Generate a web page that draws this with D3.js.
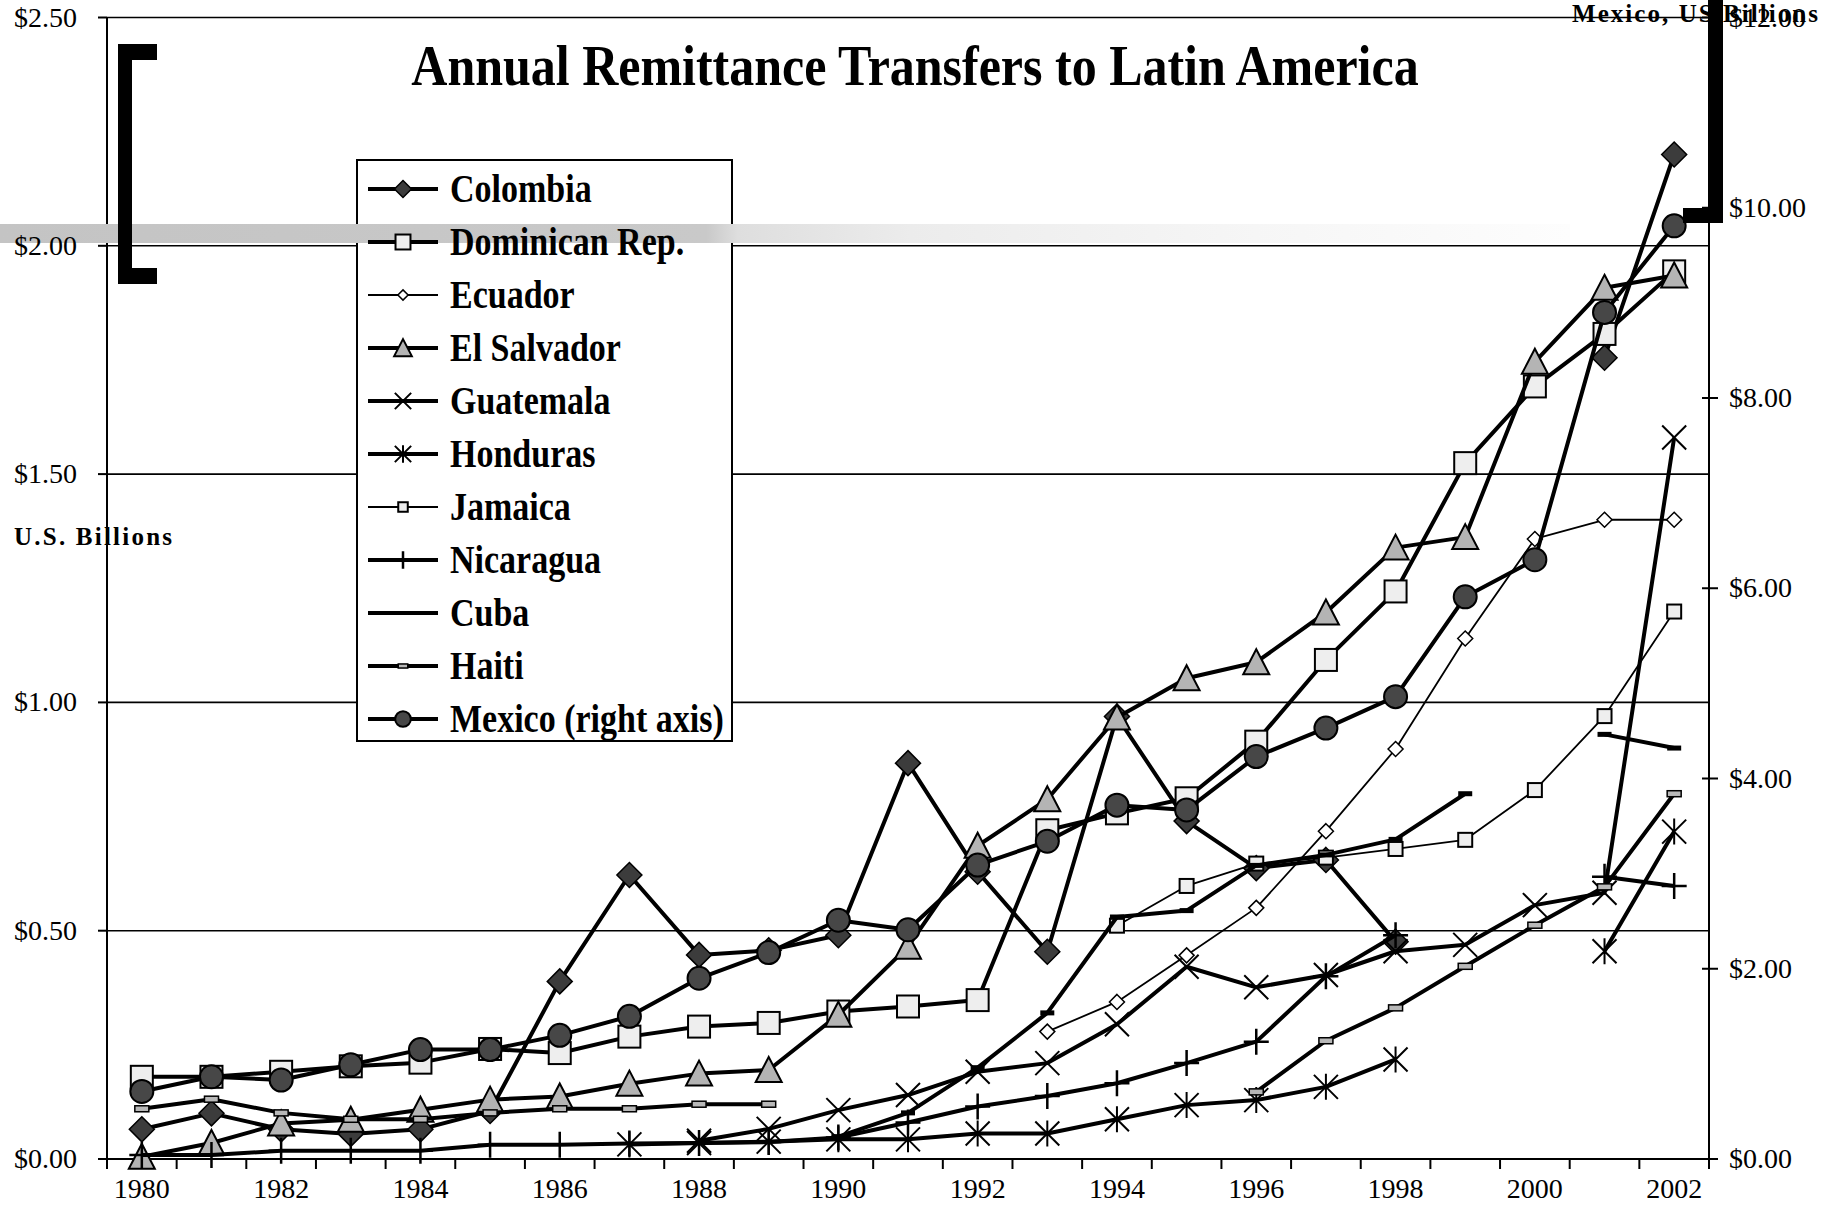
<!DOCTYPE html>
<html><head><meta charset="utf-8">
<script src="https://cdn.jsdelivr.net/npm/d3@7"></script>
<style>body{margin:0;background:#fff}svg{display:block;font-family:"Liberation Serif","Times New Roman",serif}</style>
</head><body>
<svg id="chart" width="1828" height="1217"></svg>
<script>
// ---------- DATA ----------
const years = d3.range(1980, 2003);
const yearLabels = years.filter(y => y % 2 === 0);
const leftTicks = [0, 0.5, 1, 1.5, 2, 2.5];
const rightTicks = [0, 2, 4, 6, 8, 10, 12];
const N = null;
const colombia  = [0.065,0.10,0.065,0.055,0.065,0.105,0.389,0.622,0.447,0.457,0.49,0.867,0.629,0.454,0.969,0.74,0.637,0.655,0.476,N,N,1.755,2.2];
const dominican = [0.18,0.18,0.191,0.203,0.211,0.241,0.232,0.268,0.29,0.298,0.323,0.334,0.348,0.72,0.757,0.79,0.914,1.093,1.243,1.524,1.692,1.807,1.944];
const ecuador   = [N,N,N,N,N,N,N,N,N,N,N,N,N,0.279,0.344,0.446,0.55,0.718,0.898,1.14,1.358,1.40,1.40];
const elSalvador= [0.005,0.035,0.078,0.086,0.108,0.13,0.137,0.165,0.187,0.195,0.316,0.465,0.686,0.788,0.967,1.053,1.088,1.197,1.339,1.362,1.746,1.908,1.935];
const guatemala = [N,N,N,N,N,N,N,N,0.04,0.066,0.107,0.14,0.191,0.21,0.295,0.421,0.376,0.403,0.455,0.469,0.556,0.583,1.58];
const honduras  = [N,N,N,N,N,N,N,0.032,0.035,0.038,0.043,0.043,0.056,0.056,0.087,0.118,0.129,0.158,0.218,N,N,0.455,0.717];
const jamaica   = [N,N,N,N,N,N,N,N,N,N,N,N,N,N,0.511,0.598,0.647,0.66,0.679,0.699,0.808,0.97,1.199];
const nicaragua = [0.009,0.009,0.018,0.018,0.018,0.031,0.031,0.034,0.035,0.037,0.047,0.08,0.115,0.138,0.166,0.21,0.257,0.40,0.49,N,N,0.618,0.598];
const cuba      = [N,N,N,N,N,N,N,N,N,N,0.049,0.101,0.20,0.32,0.53,0.544,0.643,0.666,0.70,0.80,N,0.93,0.90];
const haiti     = [0.11,0.131,0.101,0.087,0.087,0.101,0.11,0.11,0.12,0.12,N,N,N,N,N,N,0.147,0.259,0.331,0.422,0.512,0.596,0.80];
const mexico    = [0.71,0.865,0.83,0.99,1.15,1.15,1.30,1.50,1.90,2.17,2.51,2.41,3.09,3.34,3.72,3.67,4.23,4.53,4.86,5.91,6.30,8.90,9.81];

// ---------- SERIES TABLE ----------
const series = [
  {name:"Colombia", values:colombia, axis:"L", marker:"diamond", lw:4},
  {name:"Dominican Rep.", values:dominican, axis:"L", marker:"bigSquare", lw:4},
  {name:"Ecuador", values:ecuador, axis:"L", marker:"smallDiamond", lw:1.8},
  {name:"El Salvador", values:elSalvador, axis:"L", marker:"triangle", lw:4},
  {name:"Guatemala", values:guatemala, axis:"L", marker:"x", lw:4},
  {name:"Honduras", values:honduras, axis:"L", marker:"asterisk", lw:4},
  {name:"Jamaica", values:jamaica, axis:"L", marker:"smallSquare", lw:1.8},
  {name:"Nicaragua", values:nicaragua, axis:"L", marker:"plus", lw:4},
  {name:"Cuba", values:cuba, axis:"L", marker:"dash", lw:4},
  {name:"Haiti", values:haiti, axis:"L", marker:"rect", lw:4},
  {name:"Mexico (right axis)", values:mexico, axis:"R", marker:"circle", lw:4}
];

// ---------- GEOMETRY ----------
const L = 107, R = 1709, T = 17.5, B = 1159;
const svg = d3.select("#chart");
const x = d3.scaleBand().domain(years).range([L, R]).paddingInner(0).paddingOuter(0);
const xc = yr => x(yr) + x.bandwidth() / 2;
const yL = d3.scaleLinear().domain([0, 2.5]).range([B, T]);
const yR = d3.scaleLinear().domain([0, 12]).range([B, T]);

function drawMarker(g, type, k) {
  switch (type) {
    case "diamond":
      g.append("path").attr("d", `M0,${-12.5*k}L${12.5*k},0L0,${12.5*k}L${-12.5*k},0Z`)
        .attr("fill", "#3c3c3c").attr("stroke", "#000").attr("stroke-width", 1.5); break;
    case "bigSquare":
      g.append("rect").attr("x", -11*k).attr("y", -11*k).attr("width", 22*k).attr("height", 22*k)
        .attr("fill", "#eeeeee").attr("stroke", "#000").attr("stroke-width", 2); break;
    case "smallDiamond":
      g.append("path").attr("d", `M0,${-7.5*k}L${7.5*k},0L0,${7.5*k}L${-7.5*k},0Z`)
        .attr("fill", "#fff").attr("stroke", "#000").attr("stroke-width", 1.5); break;
    case "triangle":
      g.append("path").attr("d", `M0,${-13*k}L${13*k},${12*k}L${-13*k},${12*k}Z`)
        .attr("fill", "#b4b4b4").attr("stroke", "#000").attr("stroke-width", 2); break;
    case "x":
      g.append("path").attr("d", `M${-12*k},${-12*k}L${12*k},${12*k}M${12*k},${-12*k}L${-12*k},${12*k}`)
        .attr("fill", "none").attr("stroke", "#000").attr("stroke-width", 2); break;
    case "asterisk":
      g.append("path").attr("d", `M${-12*k},${-12*k}L${12*k},${12*k}M${12*k},${-12*k}L${-12*k},${12*k}M0,${-13*k}L0,${13*k}`)
        .attr("fill", "none").attr("stroke", "#000").attr("stroke-width", 2); break;
    case "smallSquare":
      g.append("rect").attr("x", -7*k).attr("y", -7*k).attr("width", 14*k).attr("height", 14*k)
        .attr("fill", "#eeeeee").attr("stroke", "#000").attr("stroke-width", 2); break;
    case "plus":
      g.append("path").attr("d", `M${-12.5*k},0L${12.5*k},0M0,${-13*k}L0,${13*k}`)
        .attr("fill", "none").attr("stroke", "#000").attr("stroke-width", 2.5); break;
    case "dash":
      g.append("rect").attr("x", -7*k).attr("y", -2.5*k).attr("width", 14*k).attr("height", 5*k)
        .attr("fill", "#000"); break;
    case "rect":
      g.append("rect").attr("x", -7*k).attr("y", -3*k).attr("width", 14*k).attr("height", 6*k)
        .attr("fill", "#b8b8b8").attr("stroke", "#000").attr("stroke-width", 1.5); break;
    case "circle":
      g.append("circle").attr("r", 11.5*k)
        .attr("fill", "#474747").attr("stroke", "#000").attr("stroke-width", 2); break;
  }
}

// ---------- GRID & AXES ----------
const grid = svg.append("g");
leftTicks.filter(t => t > 0).forEach(t => {
  grid.append("line").attr("x1", L).attr("x2", R).attr("y1", yL(t)).attr("y2", yL(t))
    .attr("stroke", "#000").attr("stroke-width", 1.6);
});
const ax = svg.append("g").attr("stroke", "#000").attr("stroke-width", 2);
ax.append("line").attr("x1", L).attr("x2", L).attr("y1", T).attr("y2", B);
ax.append("line").attr("x1", R).attr("x2", R).attr("y1", T).attr("y2", B);
ax.append("line").attr("x1", L).attr("x2", R).attr("y1", B).attr("y2", B);
leftTicks.forEach(t => ax.append("line").attr("x1", L - 9).attr("x2", L).attr("y1", yL(t)).attr("y2", yL(t)));
rightTicks.forEach(t => ax.append("line").attr("x1", R - 7).attr("x2", R + 9).attr("y1", yR(t)).attr("y2", yR(t)));
years.forEach(yr => ax.append("line").attr("x1", x(yr)).attr("x2", x(yr)).attr("y1", B).attr("y2", B + 10));
ax.append("line").attr("x1", R).attr("x2", R).attr("y1", B).attr("y2", B + 10);

// ---------- SERIES ----------
const plot = svg.append("g");
series.forEach(s => {
  const ys = s.axis === "R" ? yR : yL;
  const pts = years.map((yr, i) => ({yr, v: s.values[i]}));
  const line = d3.line().defined(d => d.v != null).x(d => xc(d.yr)).y(d => ys(d.v));
  plot.append("path").attr("d", line(pts)).attr("fill", "none").attr("stroke", "#000")
    .attr("stroke-width", s.lw).attr("stroke-linejoin", "round");
  pts.filter(d => d.v != null).forEach(d => {
    const g = plot.append("g").attr("transform", `translate(${xc(d.yr)},${ys(d.v)})`);
    drawMarker(g, s.marker, 1);
  });
});

// ---------- LEGEND BOX ----------
const LX = 357, LY = 160, LW = 375, LH = 581;
svg.append("rect").attr("x", LX).attr("y", LY).attr("width", LW).attr("height", LH)
  .attr("fill", "#fff").attr("stroke", "#000").attr("stroke-width", 2);

// ---------- GRAY BAND ARTIFACT ----------
const defs = svg.append("defs");
const grad = defs.append("linearGradient").attr("id", "band").attr("x1", "0").attr("x2", "1").attr("y1", "0").attr("y2", "0");
[[0, "#c4c4c4"], [0.45, "#c9c9c9"], [0.47, "#dedede"], [0.58, "#ececec"], [0.8, "#f6f6f6"], [1, "#fdfdfd"]].forEach(([o, c]) =>
  grad.append("stop").attr("offset", o).attr("stop-color", c));
svg.append("rect").attr("x", 0).attr("y", 224).attr("width", 1570).attr("height", 19).attr("fill", "url(#band)");

// ---------- LEGEND CONTENT ----------
series.forEach((s, i) => {
  const cy = 189 + i * 53;
  svg.append("line").attr("x1", 368).attr("x2", 438).attr("y1", cy).attr("y2", cy)
    .attr("stroke", "#000").attr("stroke-width", s.lw);
  const g = svg.append("g").attr("transform", `translate(403,${cy})`);
  drawMarker(g, s.marker, 0.68);
  svg.append("text").attr("transform", `translate(450,${cy + 13}) scale(1,1.15)`)
    .attr("font-size", 34).attr("font-weight", "bold").attr("fill", "#000").text(s.name);
});

// ---------- BRACKETS ----------
const br = svg.append("g").attr("fill", "#000");
br.append("rect").attr("x", 118).attr("y", 44).attr("width", 14).attr("height", 240);
br.append("rect").attr("x", 118).attr("y", 44).attr("width", 39).attr("height", 16);
br.append("rect").attr("x", 118).attr("y", 268).attr("width", 39).attr("height", 16);
br.append("rect").attr("x", 1708).attr("y", 0).attr("width", 15).attr("height", 223);
br.append("rect").attr("x", 1683).attr("y", 208).attr("width", 40).attr("height", 15);

// ---------- TICK LABELS ----------
const lab = svg.append("g").attr("font-size", 28).attr("fill", "#000");
leftTicks.forEach(t => lab.append("text").attr("x", 77).attr("y", yL(t) + 9).attr("text-anchor", "end")
  .text("$" + t.toFixed(2)));
rightTicks.forEach(t => lab.append("text").attr("x", 1729).attr("y", yR(t) + 9).attr("text-anchor", "start")
  .text("$" + t.toFixed(2)));
yearLabels.forEach(yr => lab.append("text").attr("x", xc(yr)).attr("y", 1198).attr("text-anchor", "middle").text(yr));

// ---------- TITLES ----------
svg.append("text").attr("transform", "translate(915,85) scale(1,1.16)").attr("text-anchor", "middle")
  .attr("font-size", 50).attr("font-weight", "bold").text("Annual Remittance Transfers to Latin America");
svg.append("text").attr("x", 14).attr("y", 545).attr("font-size", 25).attr("font-weight", "bold")
  .attr("textLength", 158).attr("lengthAdjust", "spacing").text("U.S. Billions");
svg.append("text").attr("x", 1572).attr("y", 22).attr("font-size", 25).attr("font-weight", "bold")
  .attr("textLength", 246).attr("lengthAdjust", "spacing").text("Mexico, US Billions");
</script>
</body></html>
